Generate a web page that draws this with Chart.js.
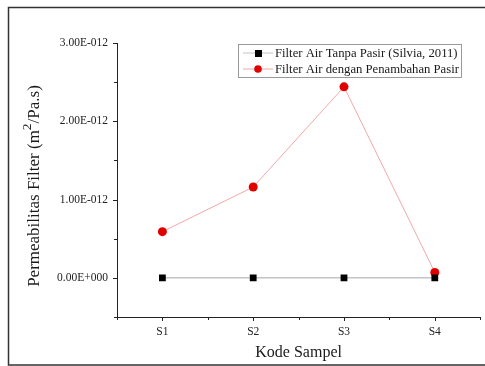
<!DOCTYPE html>
<html>
<head>
<meta charset="utf-8">
<script src="https://cdn.jsdelivr.net/npm/chart.js@4"></script>
<style>
  html, body { margin: 0; padding: 0; background: #fff; }
  #wrap { width: 485px; height: 366px; }
</style>
</head>
<body>
<div id="wrap"><canvas id="permChart" width="485" height="366"></canvas></div>
<script>
// data
const categories = ['S1', 'S2', 'S3', 'S4'];
const tanpaPasir = [0, 0, 0, 0];                              // Silvia, 2011
const denganPasir = [0.59e-12, 1.16e-12, 2.44e-12, 0.07e-12];
const seriesNames = ['Filter Air Tanpa Pasir (Silvia, 2011)', 'Filter Air dengan Penambahan Pasir'];
const yTitle = ['Permeabilitas Filter (m', '2', '/Pa.s)'];
const xTitle = 'Kode Sampel';

const SERIF = '"Liberation Serif", "Times New Roman", serif';

function toPoints(values) {
    return values.map((v, i) => ({ x: i + 1, y: v }));
}

// Origin style exponent labels, e.g. 3.00E-012
function fmtExp(v) {
    if (Math.abs(v) < 1e-20) return '0.00E+000';
    const parts = v.toExponential(2).split('e');
    const exp = parseInt(parts[1], 10);
    const sign = exp < 0 ? '-' : '+';
    return parts[0] + 'E' + sign + String(Math.abs(exp)).padStart(3, '0');
}

// frame, tick marks, titles and legend box
const decorations = {
    id: 'decorations',
    beforeDraw(chart) {
        const c = chart.ctx;
        c.save();
        c.strokeStyle = '#333';
        c.lineWidth = 1.5;
        c.strokeRect(8.5, 7.5, 490, 357.5);
        c.restore();
    },
    afterDraw(chart) {
        const c = chart.ctx;
        const area = chart.chartArea;
        const xs = chart.scales.x;
        const ys = chart.scales.y;
        c.save();
        c.strokeStyle = '#222';
        c.lineWidth = 1;

        // x ticks (down)
        xs.ticks.forEach(t => {
            const px = Math.round(xs.getPixelForValue(t.value)) + 0.5;
            const len = Number.isInteger(t.value) ? 4 : 3;
            c.beginPath();
            c.moveTo(px, area.bottom);
            c.lineTo(px, area.bottom + len);
            c.stroke();
        });
        // y ticks (left)
        ys.ticks.forEach(t => {
            const py = Math.round(ys.getPixelForValue(t.value)) + 0.5;
            const major = Math.round(t.value / 0.5e-12) % 2 === 0;
            const len = major ? 4 : 3;
            c.beginPath();
            c.moveTo(area.left, py);
            c.lineTo(area.left - len, py);
            c.stroke();
        });

        // axis titles
        c.fillStyle = '#1a1a1a';
        c.font = '16px ' + SERIF;
        c.textAlign = 'center';
        c.textBaseline = 'middle';
        c.fillText(xTitle, (area.left + area.right) / 2, 353);

        c.save();
        c.translate(35, 186);
        c.rotate(-Math.PI / 2);
        const mainFont = '17px ' + SERIF;
        const supFont = '13.5px ' + SERIF;
        c.font = mainFont;
        const w0 = c.measureText(yTitle[0]).width;
        const w2 = c.measureText(yTitle[2]).width;
        c.font = supFont;
        const w1 = c.measureText(yTitle[1]).width;
        let x = -(w0 + w1 + w2) / 2;
        c.textAlign = 'left';
        c.textBaseline = 'middle';
        c.font = mainFont;
        c.fillText(yTitle[0], x, 0);
        x += w0;
        c.font = supFont;
        c.fillText(yTitle[1], x, -8);
        x += w1;
        c.font = mainFont;
        c.fillText(yTitle[2], x, 0);
        c.restore();

        // legend
        const lx = 238, ly = 44, lw = 223, lh = 33;
        c.fillStyle = '#fff';
        c.fillRect(lx, ly, lw, lh);
        c.strokeStyle = '#999';
        c.lineWidth = 1;
        c.strokeRect(lx + 0.5, ly + 0.5, lw, lh);
        c.font = '12.7px ' + SERIF;
        c.textAlign = 'left';
        c.textBaseline = 'middle';
        chart.data.datasets.forEach((ds, i) => {
            const y = ly + 9 + i * 16;
            c.strokeStyle = ds.borderColor;
            c.lineWidth = 1;
            c.beginPath();
            c.moveTo(lx + 5, y);
            c.lineTo(lx + 35, y);
            c.stroke();
            c.fillStyle = ds.pointBackgroundColor;
            if (ds.pointStyle === 'rect') {
                c.fillRect(lx + 17, y - 3, 7, 7);
            } else {
                c.beginPath();
                c.arc(lx + 20, y, 3.8, 0, Math.PI * 2);
                c.fill();
            }
            c.fillStyle = '#1a1a1a';
            c.fillText(ds.label, lx + 37, y + 0.5);
        });
        c.restore();
    }
};

const ctx = document.getElementById('permChart').getContext('2d');
const permChart = new Chart(ctx, {
    type: 'line',
    data: {
        datasets: [{
            label: seriesNames[0],
            data: toPoints(tanpaPasir),
            borderColor: '#c4c4c4',
            borderWidth: 1.5,
            pointStyle: 'rect',
            pointRadius: 4.8,
            pointBackgroundColor: '#000',
            pointBorderColor: '#000',
            pointBorderWidth: 0,
        }, {
            label: seriesNames[1],
            data: toPoints(denganPasir),
            borderColor: '#f2a8a8',
            borderWidth: 1,
            pointStyle: 'circle',
            pointRadius: 4.5,
            pointBackgroundColor: '#e00000',
            pointBorderColor: '#e00000',
            pointBorderWidth: 0,
        }],
    },
    options: {
        responsive: false,
        animation: false,
        events: [],
        layout: { padding: { top: 43, right: 4, left: 0, bottom: 0 } },
        plugins: {
            legend: { display: false },
            tooltip: { enabled: false },
        },
        scales: {
            x: {
                type: 'linear',
                min: 0.5,
                max: 4.5,
                afterFit(scale) {
                    scale.height = 49;
                    scale.paddingLeft = 0;
                    scale.paddingRight = 0;
                },
                grid: { display: false, drawTicks: false },
                border: { display: true, color: '#222', width: 1 },
                ticks: {
                    stepSize: 0.5,
                    autoSkip: false,
                    maxRotation: 0,
                    padding: 8,
                    color: '#222',
                    font: { family: SERIF, size: 11.5 },
                    callback: v => Number.isInteger(v) ? categories[v - 1] : '',
                },
            },
            y: {
                min: -0.5e-12,
                max: 3e-12,
                afterFit(scale) { scale.width = 117; },
                grid: { display: false, drawTicks: false },
                border: { display: true, color: '#222', width: 1 },
                ticks: {
                    stepSize: 0.5e-12,
                    padding: 9,
                    color: '#222',
                    font: { family: SERIF, size: 11.5 },
                    callback: v => Math.round(v / 0.5e-12) % 2 === 0 ? fmtExp(v) : '',
                },
            },
        },
    },
    plugins: [decorations],
});
</script>
</body>
</html>
